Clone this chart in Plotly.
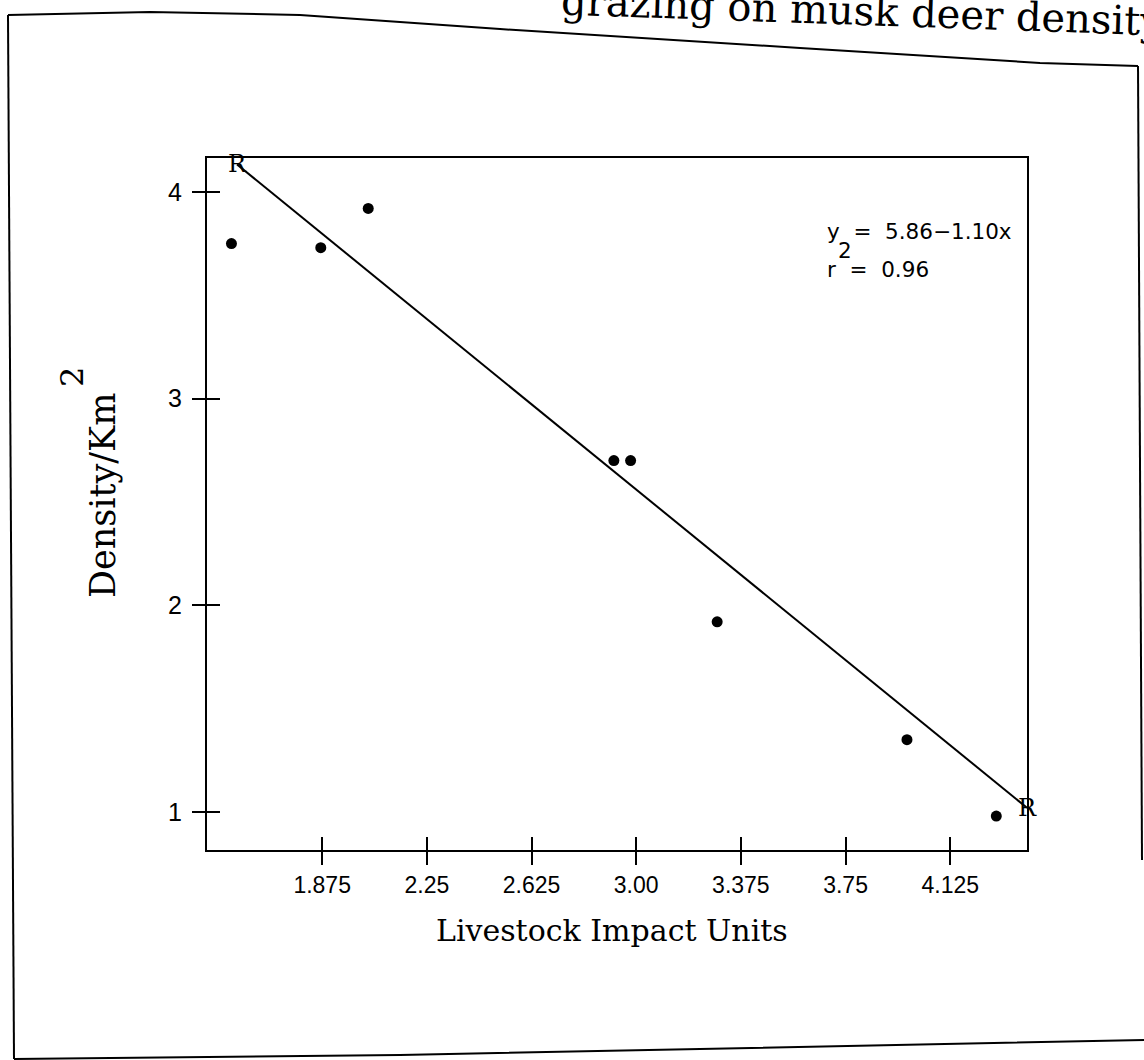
import plotly.graph_objects as go

# Livestock pressure vs. musk deer density
lsu = [1.55, 1.87, 2.04, 2.92, 2.98, 3.29, 3.97, 4.29]
density = [3.75, 3.73, 3.92, 2.70, 2.70, 1.92, 1.35, 0.98]

x_ticks = [1.875, 2.25, 2.625, 3.00, 3.375, 3.75, 4.125]
x_tick_text = ["1.875", "2.25", "2.625", "3.00", "3.375", "3.75", "4.125"]
y_ticks = [1, 2, 3, 4]
y_tick_text = ["1", "2", "3", "4"]

# least-squares fit reported on the plot
intercept, slope = 5.86, -1.10
r_squared = 0.96
fit_x = [1.57, 4.40]
fit_y = [intercept + slope * v for v in fit_x]

W, H = 1144, 1060
X_RANGE = [1.4624, 4.40]
Y_RANGE = [0.816, 4.164]


def px(x, y):
    """pixel position -> paper fraction"""
    return x / W, 1 - y / H


def path(points):
    parts = []
    for i, (x, y) in enumerate(points):
        fx, fy = px(x, y)
        parts.append(("M" if i == 0 else "L") + f" {fx:.5f},{fy:.5f}")
    return " ".join(parts)


SERIF = "DejaVu Serif"
SANS = "Liberation Sans"

fig = go.Figure()

fig.add_trace(go.Scatter(
    x=fit_x, y=fit_y, mode="lines",
    line=dict(color="black", width=2), showlegend=False, hoverinfo="skip",
))
fig.add_trace(go.Scatter(
    x=lsu, y=density, mode="markers",
    marker=dict(color="black", size=11), showlegend=False,
))
# carrier for the inward tick axes
fig.add_trace(go.Scatter(x=[None], y=[None], xaxis="x2", yaxis="y2",
                         showlegend=False, hoverinfo="skip"))

x_dom = [207 / W, 1027 / W]
y_dom = [1 - 850 / H, 1 - 158 / H]

axis_common = dict(
    showgrid=False, zeroline=False, tickcolor="black", tickwidth=2, ticklen=13,
)

fig.update_layout(
    width=W, height=H,
    margin=dict(l=0, r=0, t=0, b=0),
    paper_bgcolor="white", plot_bgcolor="white",
    xaxis=dict(
        domain=x_dom, range=X_RANGE, tickmode="array",
        tickvals=x_ticks, ticktext=x_tick_text, ticks="outside",
        showline=True, linecolor="black", linewidth=2, mirror=True,
        tickfont=dict(family=SANS, size=23, color="black"),
        ticklabelstandoff=0, automargin=False, **axis_common,
    ),
    yaxis=dict(
        domain=y_dom, range=Y_RANGE, tickmode="array",
        tickvals=y_ticks, ticktext=y_tick_text, ticks="outside",
        showline=True, linecolor="black", linewidth=2, mirror=True,
        tickfont=dict(family=SANS, size=25, color="black"),
        ticklabelstandoff=5, automargin=False, **axis_common,
    ),
    xaxis2=dict(
        domain=x_dom, range=X_RANGE, overlaying="x", anchor="y", side="bottom",
        tickmode="array", tickvals=x_ticks, ticks="inside",
        showticklabels=False, showline=False, **axis_common,
    ),
    yaxis2=dict(
        domain=y_dom, range=Y_RANGE, overlaying="y", anchor="x", side="left",
        tickmode="array", tickvals=y_ticks, ticks="inside",
        showticklabels=False, showline=False, **axis_common,
    ),
)

# page border
border = [
    [(8, 15), (150, 12), (300, 15), (500, 29), (800, 48), (1040, 63), (1138, 66)],
    [(1138, 66), (1142, 860)],
    [(8, 15), (14, 1059)],
    [(14, 1059), (400, 1055), (1144, 1040)],
]
for pts in border:
    fig.add_shape(type="path", path=path(pts), xref="paper", yref="paper",
                  line=dict(color="black", width=2))

annotations = []


def note(x, y, text, font, xanchor="center", angle=0):
    fx, fy = px(x, y)
    annotations.append(dict(x=fx, y=fy, xref="paper", yref="paper", text=text,
                            showarrow=False, font=font, xanchor=xanchor,
                            yanchor="middle", textangle=angle))


# regression end labels
for xv, yv in zip(fit_x, fit_y):
    annotations.append(dict(
        x=xv, y=yv, xref="x", yref="y", text="R", showarrow=False,
        font=dict(family=SERIF, size=24, color="black"),
        xanchor="center", yanchor="middle",
    ))

# equation block
eq_font = dict(family="DejaVu Sans", size=21.5, color="black")
note(825, 232, f"y  =  {intercept:.2f}\u2212{abs(slope):.2f}x", eq_font, "left")
note(825, 269, f"r  =  {r_squared:.2f}", eq_font, "left")
note(845, 250, "2", eq_font)

# axis titles
title_font = dict(family=SERIF, size=30, color="black")
note(612, 930, "Livestock Impact Units", title_font)
note(103, 496, "Density/Km", dict(family=SERIF, size=35, color="black"), angle=-90)
note(72, 377, "2", dict(family=SERIF, size=32, color="black"), angle=-90)

# page heading (runs off the top edge)
note(862, 11, "grazing on musk deer density",
     dict(family=SERIF, size=40, color="black"), angle=2)

fig.update_layout(annotations=annotations)

fig.write_html("out.html")
